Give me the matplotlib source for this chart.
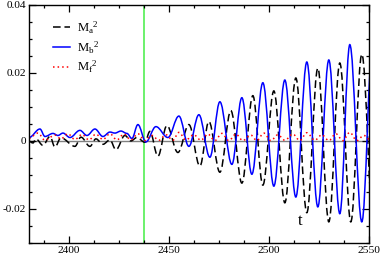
import matplotlib
matplotlib.use('Agg')
import matplotlib.pyplot as plt
from matplotlib.path import Path
from matplotlib.patches import PathPatch
from matplotlib.lines import Line2D
from matplotlib.ticker import MultipleLocator
import numpy as np

plt.rcParams['font.family'] = ['Liberation Serif', 'DejaVu Serif']
plt.rcParams['mathtext.fontset'] = 'custom'
plt.rcParams['mathtext.rm'] = 'Liberation Serif'
plt.rcParams['mathtext.it'] = 'Liberation Serif'

# extrema (t, value)
t_b = [2380, 2385.5, 2388, 2392, 2394.5, 2397, 2400.5, 2405.5, 2409, 2413, 2417,
       2420.5, 2423, 2426, 2429, 2431.5, 2434.5, 2438.5, 2443.5, 2449.5, 2455,
       2460, 2465, 2470.5, 2475.5, 2481.5, 2486.5, 2491.5, 2497, 2502.5, 2508,
       2513.5, 2519, 2524.5, 2530, 2535.5, 2540.5, 2546.5, 2552]
m_b = [0.0010, 0.0035, 0.0013, 0.0022, 0.0016, 0.0023, 0.0010, 0.0031, 0.0016,
       0.0035, 0.0013, 0.0026, 0.0023, 0.0029, 0.0022, 0.0007, 0.0048, -0.0003,
       0.0042, 0.0010, 0.0073, -0.0016, 0.0077, -0.0048, 0.0115, -0.0069, 0.0127,
       -0.0098, 0.0171, -0.0133, 0.0179, -0.0165, 0.0232, -0.0194, 0.0238,
       -0.0214, 0.0283, -0.0238, 0.0293]

t_a = [2380, 2382, 2383.5, 2387, 2390.5, 2393, 2396, 2403, 2406, 2410.5, 2413.5,
       2417, 2420.5, 2423.5, 2428, 2431, 2434, 2438, 2440.5, 2444.5, 2449,
       2454.5, 2460, 2465.5, 2470, 2475.5, 2481, 2486.5, 2492, 2497, 2502.5,
       2508, 2513.5, 2519, 2524.5, 2530, 2535.5, 2541, 2546.5, 2552.5]
m_a = [-0.0001, -0.0006, 0.0006, -0.0013, 0.0013, -0.0018, 0.0009, -0.0016,
       0.0011, -0.0016, 0.0006, -0.0010, 0.0003, -0.0026, 0.0016, 0.0000,
       0.0010, -0.0004, 0.0028, -0.0045, 0.0045, -0.0034, 0.0048, -0.0074,
       0.0057, -0.0092, 0.0089, -0.0124, 0.0133, -0.0130, 0.0147, -0.0182,
       0.0185, -0.0211, 0.0214, -0.0238, 0.0229, -0.0238, 0.0255, -0.0261]

t_f = [2380, 2384.5, 2388, 2393, 2396, 2399.5, 2403, 2406.5, 2410, 2413.5, 2417,
       2420.5, 2424, 2427.5, 2431, 2434.5, 2438, 2441.5, 2445, 2448.5, 2452,
       2455, 2458.5, 2462.5, 2466, 2469.5, 2473, 2476.5, 2480, 2483.5, 2487,
       2491, 2494, 2497.5, 2501, 2504.5, 2508, 2512, 2515.5, 2519, 2523,
       2526.5, 2530, 2533.5, 2537, 2540.5, 2544, 2547.5, 2551]
m_f = [0.0008, 0.0023, 0.0002, 0.0017, 0.0006, 0.0021, 0.0004, 0.0019, 0.0003,
       0.0020, 0.0004, 0.0021, 0.0003, 0.0020, 0.0003, 0.0021, 0.0001, 0.0016,
       0.0002, 0.0018, 0.0002, 0.0025, 0.0003, 0.0018, 0.0002, 0.0020, 0.0001,
       0.0022, 0.0001, 0.0020, 0.0001, 0.0017, 0.0001, 0.0023, 0.0001, 0.0018,
       0.0002, 0.0020, 0.0001, 0.0024, 0.0002, 0.0018, 0.0001, 0.0021, 0.0001,
       0.0025, 0.0001, 0.0016, 0.0002]

t_mark = 2437.5


def smooth_path(ts, vs, k=0.364):
    # cubic bezier between extrema, flat tangents at each extremum
    verts = [(ts[0], vs[0])]
    codes = [Path.MOVETO]
    for i in range(len(ts) - 1):
        dt = ts[i + 1] - ts[i]
        verts += [(ts[i] + k * dt, vs[i]), (ts[i + 1] - k * dt, vs[i + 1]),
                  (ts[i + 1], vs[i + 1])]
        codes += [Path.CURVE4] * 3
    return Path(verts, codes)


fig = plt.figure(figsize=(3.81, 2.56), dpi=100)
ax = fig.add_axes([0.076, 0.051, 0.892, 0.930])

ax.axhline(0, color='#808080', lw=1.0, zorder=1)
ax.axvline(t_mark, color='#44ee44', lw=1.1, zorder=1)

styles = [(t_a, m_a, 'black', (0, (5, 2.5)), r'$\mathrm{M_a}^2$'),
          (t_b, m_b, 'blue', '-', r'$\mathrm{M_b}^2$'),
          (t_f, m_f, 'red', (0, (1, 2)), r'$\mathrm{M_f}^2$')]
handles = []
for ts, vs, c, ls, lab in styles:
    ax.add_patch(PathPatch(smooth_path(ts, vs), fill=False, edgecolor=c,
                           lw=1.1, linestyle=ls, zorder=2))
    handles.append(Line2D([], [], color=c, lw=1.1, linestyle=ls, label=lab))

ax.set_xlim(2380, 2550)
ax.set_ylim(-0.03, 0.04)
ax.xaxis.set_major_locator(MultipleLocator(50))
ax.xaxis.set_minor_locator(MultipleLocator(12.5))
ax.yaxis.set_major_locator(MultipleLocator(0.02))
ax.yaxis.set_minor_locator(MultipleLocator(0.005))
ax.yaxis.set_major_formatter(matplotlib.ticker.FuncFormatter(
    lambda v, p: '0' if abs(v) < 1e-9 else '%g' % v))
ax.tick_params(which='both', direction='in', top=True, right=True,
               labelsize=8.2, pad=2)
ax.tick_params(which='major', length=5, width=0.9)
ax.tick_params(which='minor', length=2.5, width=0.9)
for s in ax.spines.values():
    s.set_linewidth(1.0)

ax.legend(handles=handles, loc='upper left', bbox_to_anchor=(0.045, 0.975),
          frameon=False, fontsize=9.2, handlelength=1.3, handletextpad=0.55,
          labelspacing=0.25, borderpad=0.2)

ax.text(2515.5, -0.0235, 't', fontsize=12, ha='center', va='center')

fig.savefig('out.png', dpi=100)
